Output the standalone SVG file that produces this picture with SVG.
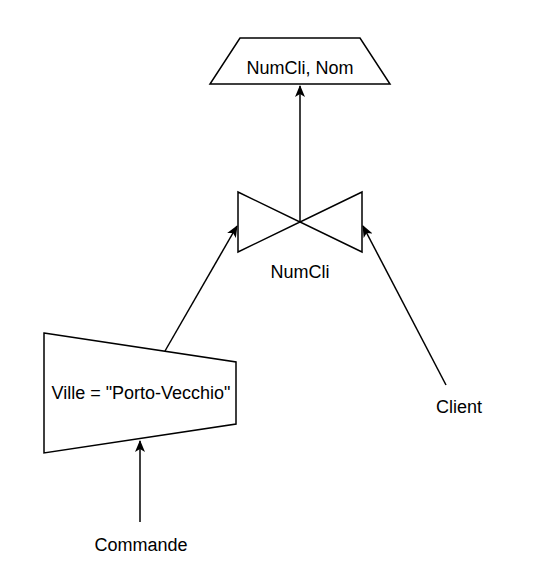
<svg xmlns="http://www.w3.org/2000/svg" width="537" height="578" viewBox="0 0 537 578">
<style>
.s{fill:#fff;stroke:#000;stroke-width:1.5;stroke-linejoin:miter}
.t{font-family:"Liberation Sans",Arial,sans-serif;font-size:18px;fill:#000;text-anchor:middle}
.e{fill:none;stroke:#000;stroke-width:1.5}
</style>
<defs>
<marker id="a" viewBox="0 0 12 10" refX="11" refY="5" markerWidth="12" markerHeight="10" markerUnits="userSpaceOnUse" orient="auto">
<path d="M0,0 L12,5 L0,10 L3,5 Z" fill="#000"/>
</marker>
</defs>
<rect width="537" height="578" fill="#fff"/>
<g id="edges">
<line class="e" x1="300" y1="222" x2="300" y2="86" marker-end="url(#a)"/>
<line class="e" x1="165" y1="351" x2="237" y2="226" marker-end="url(#a)"/>
<line class="e" x1="446" y1="385" x2="363" y2="226" marker-end="url(#a)"/>
<line class="e" x1="140" y1="522" x2="140" y2="441" marker-end="url(#a)"/>
</g>
<g id="projection">
<polygon class="s" points="240,38 360,38 390,84 210,84"/>
<text class="t" x="300" y="74">NumCli, Nom</text>
</g>
<g id="join">
<polygon class="s" points="238,192 300,222 238,252"/>
<polygon class="s" points="362,192 300,222 362,252"/>
<text class="t" x="300" y="278">NumCli</text>
</g>
<g id="selection">
<polygon class="s" points="44,333 236,362 236,424 44,453"/>
<text class="t" x="141" y="399">Ville = "Porto-Vecchio"</text>
</g>
<g id="client">
<text class="t" x="459" y="413">Client</text>
</g>
<g id="commande">
<text class="t" x="141" y="551">Commande</text>
</g>
</svg>
